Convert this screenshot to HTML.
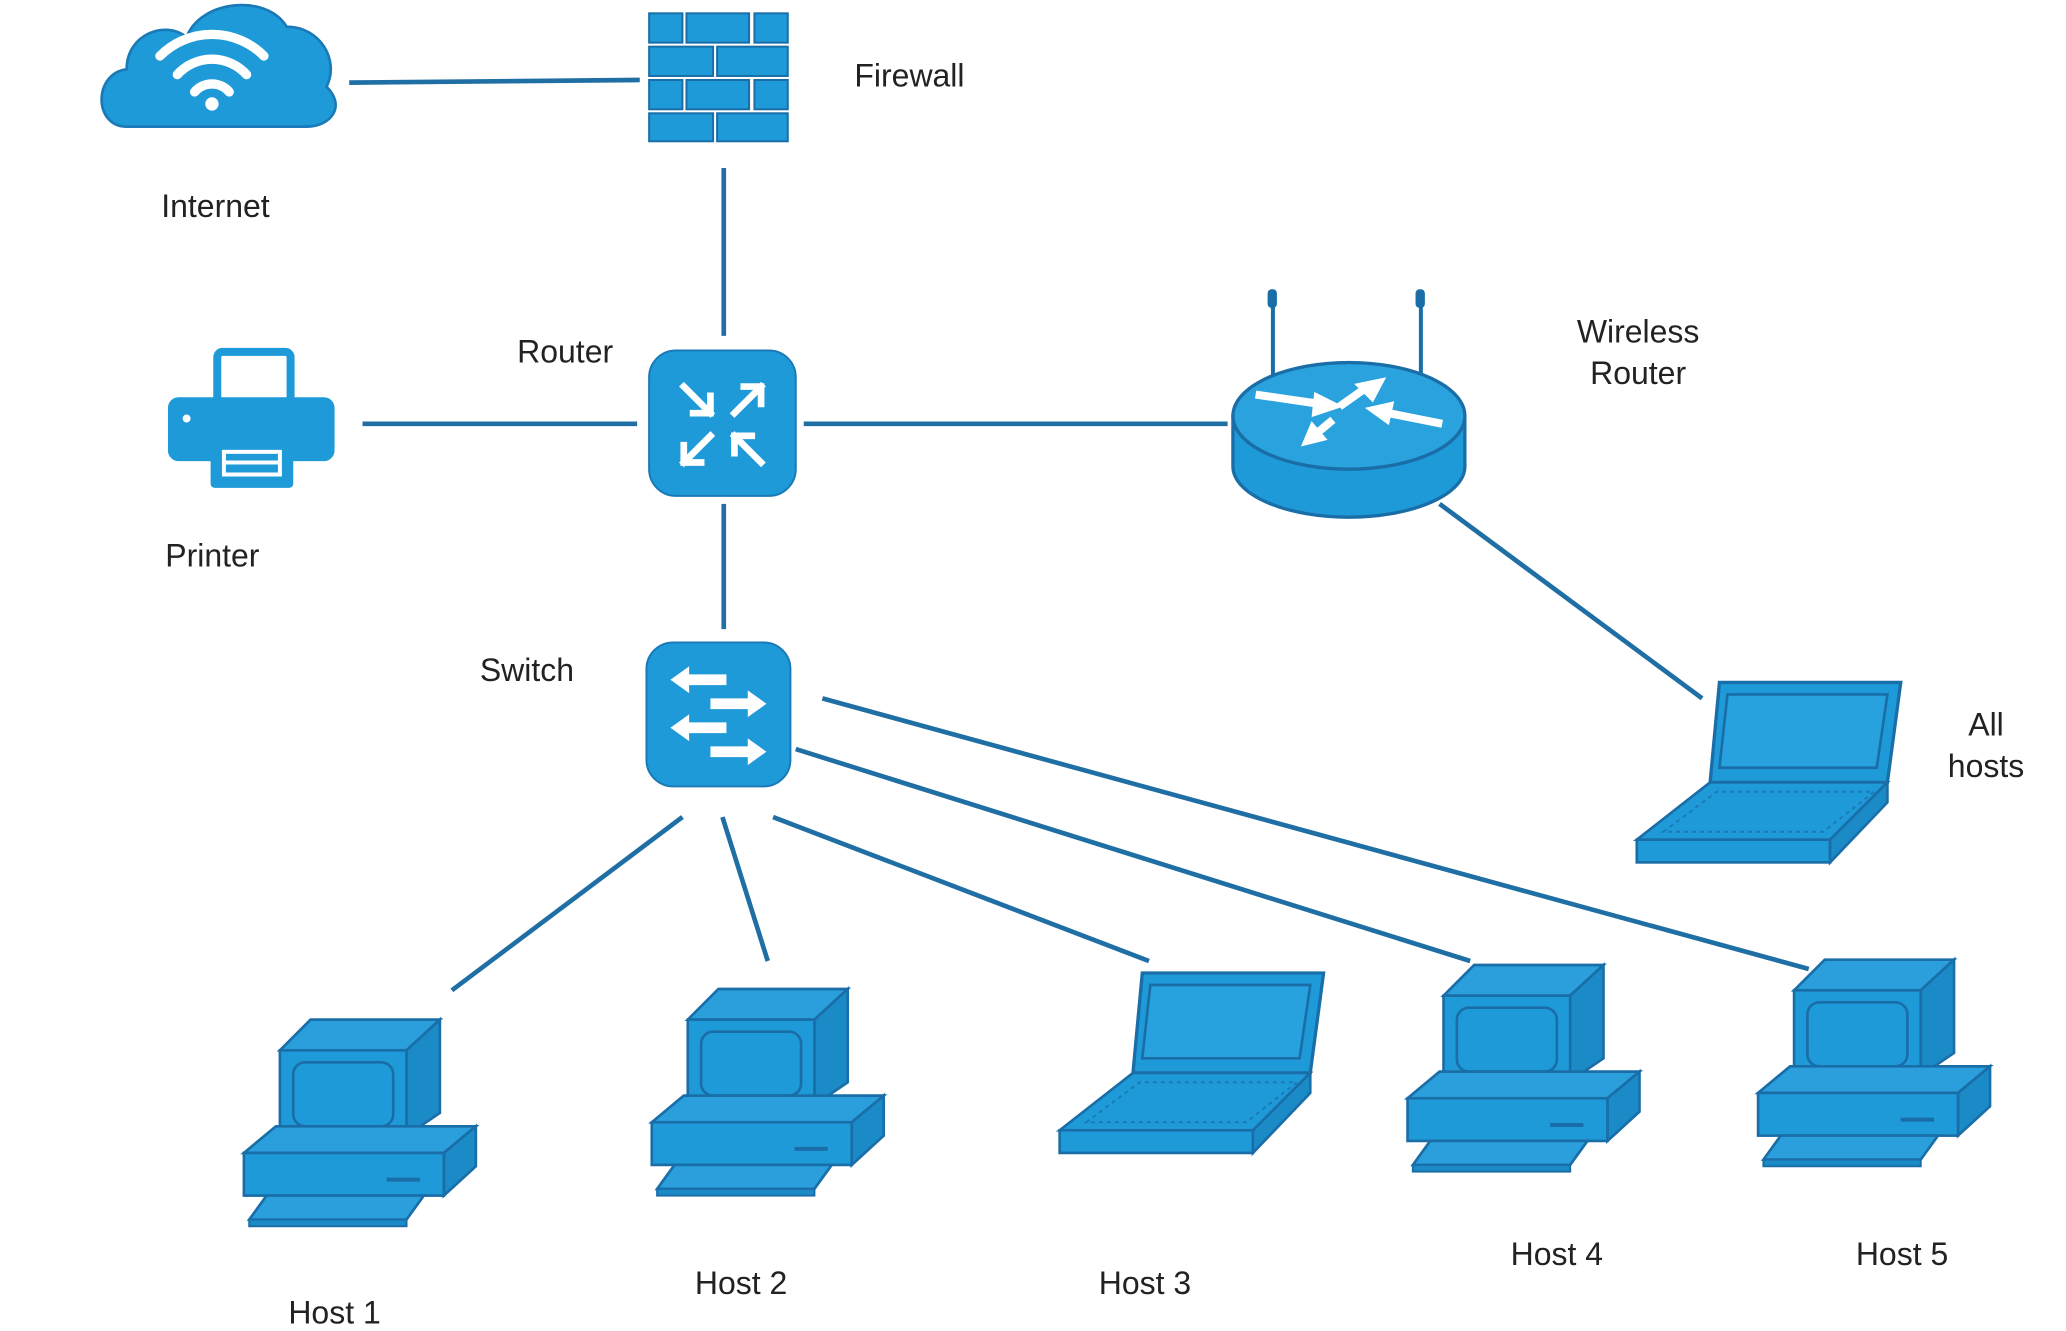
<!DOCTYPE html>
<html><head><meta charset="utf-8"><style>
html,body{margin:0;padding:0;background:#fff;}
svg{display:block;}
text{font-family:"Liberation Sans",Arial,sans-serif;font-size:24px;fill:#222;}
</style></head><body>
<svg width="2066" height="1331" viewBox="0 0 1550 998.6" preserveAspectRatio="none" xmlns="http://www.w3.org/2000/svg">
<defs>
<g id="pc">
  <polygon points="27,23 50,0 147,0 122,23" fill="#2a9fdc" stroke="#1a6ea8" stroke-width="2"/>
  <polygon points="122,23 147,0 147,70 122,87" fill="#1b8bc8" stroke="#1a6ea8" stroke-width="2"/>
  <rect x="27" y="23" width="95" height="64" fill="#1f9ad8" stroke="#1a6ea8" stroke-width="2"/>
  <rect x="37" y="32" width="75" height="48" rx="9" fill="#1f9ad8" stroke="#1a6ea8" stroke-width="2"/>
  <polygon points="0,100 24,80 174,80 150,100" fill="#2a9fdc" stroke="#1a6ea8" stroke-width="2"/>
  <polygon points="150,100 174,80 174,110 150,132" fill="#1b8bc8" stroke="#1a6ea8" stroke-width="2"/>
  <rect x="0" y="100" width="150" height="32" fill="#1f9ad8" stroke="#1a6ea8" stroke-width="2"/>
  <line x1="107" y1="120" x2="132" y2="120" stroke="#1a6ea8" stroke-width="3"/>
  <polygon points="4,150 17,132 135,132 122,150" fill="#2a9fdc" stroke="#1a6ea8" stroke-width="2"/>
  <rect x="4" y="150" width="118" height="5" fill="#1b8bc8" stroke="#1a6ea8" stroke-width="1.5"/>
</g>
<g id="lap">
  <polygon points="55,75 62,0 198,0 188,75" fill="#1f9ad8" stroke="#1a6ea8" stroke-width="2.5"/>
  <polygon points="68,9 188,9 180,64 62,64" fill="#27a2de" stroke="#1a6ea8" stroke-width="2"/>
  <polygon points="0,118 55,75 188,75 145,118" fill="#1f9ad8" stroke="#1a6ea8" stroke-width="2"/>
  <polygon points="20,112 60,82 178,82 140,112" fill="none" stroke="#1a7ab8" stroke-width="1.5" stroke-dasharray="3,3"/>
  <rect x="0" y="118" width="145" height="17" fill="#1f9ad8" stroke="#1a6ea8" stroke-width="2"/>
  <polygon points="145,118 188,75 188,90 145,135" fill="#1b8bc8" stroke="#1a6ea8" stroke-width="2"/>
</g>
</defs>

<g stroke="#1f6fa5" stroke-width="3.5" fill="none">
  <line x1="262" y1="62" x2="480" y2="60"/>
  <line x1="543" y1="126" x2="543" y2="252"/>
  <line x1="272" y1="318" x2="478" y2="318"/>
  <line x1="603" y1="318" x2="921" y2="318"/>
  <line x1="1080" y1="378" x2="1277" y2="524"/>
  <line x1="543" y1="378" x2="543" y2="472"/>
  <line x1="512" y1="613" x2="339" y2="743"/>
  <line x1="542" y1="613" x2="576" y2="721"/>
  <line x1="580" y1="613" x2="862" y2="721"/>
  <line x1="597" y1="562" x2="1103" y2="721"/>
  <line x1="617" y1="524" x2="1357" y2="727"/>
</g>

<path d="M95,95 C70,95 70,55 95,52 C95,25 125,15 140,28 C150,0 200,-5 215,20 C240,20 255,45 245,65 C260,80 248,95 230,95 Z" fill="#1f9ad8" stroke="#1a7ab8" stroke-width="2"/>
<g fill="none" stroke="#fff" stroke-width="7" stroke-linecap="round">
  <path d="M120,42 A55,55 0 0 1 198,42"/>
  <path d="M133,56 A35,35 0 0 1 185,56"/>
  <path d="M146,69 A17,17 0 0 1 172,69"/>
</g>
<circle cx="159" cy="78" r="5" fill="#fff"/>

<g fill="#1f9ad8" stroke="#1a6ea8" stroke-width="1.5">
  <rect x="487" y="10" width="25" height="22"/><rect x="515" y="10" width="47" height="22"/><rect x="566" y="10" width="25" height="22"/>
  <rect x="487" y="35" width="48" height="22"/><rect x="538" y="35" width="53" height="22"/>
  <rect x="487" y="60" width="25" height="22"/><rect x="515" y="60" width="47" height="22"/><rect x="566" y="60" width="25" height="22"/>
  <rect x="487" y="85" width="48" height="21"/><rect x="538" y="85" width="53" height="21"/>
</g>

<rect x="487" y="263" width="110" height="109" rx="20" fill="#1f9ad8" stroke="#1a7ab8" stroke-width="1.5"/>
<g stroke="#fff" stroke-width="5" fill="none" stroke-linecap="square">
  <line x1="513" y1="290" x2="533" y2="310"/><polyline points="533,297 533,310 520,310"/>
  <line x1="551" y1="310" x2="571" y2="290"/><polyline points="558,290 571,290 571,303"/>
  <line x1="533" y1="327" x2="513" y2="347"/><polyline points="513,334 513,347 526,347"/>
  <line x1="571" y1="347" x2="551" y2="327"/><polyline points="551,340 551,327 564,327"/>
</g>

<rect x="163" y="264" width="55" height="40" rx="4" fill="#fff" stroke="#1f9ad8" stroke-width="6"/>
<rect x="126" y="298" width="125" height="48" rx="8" fill="#1f9ad8"/>
<rect x="158" y="328" width="62" height="38" rx="3" fill="#1f9ad8"/>
<circle cx="140" cy="314" r="3" fill="#fff"/>
<rect x="168" y="339" width="42" height="17" fill="none" stroke="#fff" stroke-width="3"/>
<line x1="168" y1="347" x2="210" y2="347" stroke="#fff" stroke-width="3"/>

<g stroke="#1a6ea8" stroke-width="3">
  <line x1="955" y1="222" x2="955" y2="290"/><line x1="1066" y1="222" x2="1066" y2="290"/>
</g>
<rect x="951" y="217" width="7" height="14" rx="3" fill="#1a6ea8"/>
<rect x="1062" y="217" width="7" height="14" rx="3" fill="#1a6ea8"/>
<path d="M925,312 L925,350 A87,38 0 0 0 1099,350 L1099,312 Z" fill="#1f9ad8" stroke="#1a6ea8" stroke-width="2.5"/>
<ellipse cx="1012" cy="312" rx="87" ry="40" fill="#2aa2de" stroke="#1a6ea8" stroke-width="2.5"/>
<g stroke="#fff" stroke-width="6" stroke-linecap="butt">
  <line x1="942" y1="296" x2="990" y2="303"/>
  <line x1="1082" y1="318" x2="1042" y2="310"/>
  <line x1="1005" y1="305" x2="1022" y2="293"/>
  <line x1="1000" y1="315" x2="988" y2="325"/>
</g>
<g fill="#fff">
  <polygon points="986,294 1008,305 984,313"/>
  <polygon points="1046,301 1024,306 1042,319"/>
  <polygon points="1016,288 1040,283 1030,302"/>
  <polygon points="996,330 976,335 984,316"/>
</g>

<rect x="485" y="482" width="108" height="108" rx="20" fill="#1f9ad8" stroke="#1a7ab8" stroke-width="1.5"/>
<g fill="#fff">
  <polygon points="503,510 517,500 517,506 545,506 545,514 517,514 517,520"/>
  <polygon points="575,528 561,518 561,524 533,524 533,532 561,532 561,538"/>
  <polygon points="503,546 517,536 517,542 545,542 545,550 517,550 517,556"/>
  <polygon points="575,564 561,554 561,560 533,560 533,568 561,568 561,574"/>
</g>

<use href="#pc" transform="translate(183,765)"/>
<use href="#pc" transform="translate(489,742)"/>
<use href="#pc" transform="translate(1056,724)"/>
<use href="#pc" transform="translate(1319,720)"/>
<use href="#lap" transform="translate(795,730)"/>
<use href="#lap" transform="translate(1228,512)"/>

<text x="641" y="65">Firewall</text>
<text x="121" y="163">Internet</text>
<text x="388" y="272">Router</text>
<text x="124" y="425">Printer</text>
<text x="360" y="511">Switch</text>
<text x="1229" y="257" text-anchor="middle">Wireless</text>
<text x="1229" y="288" text-anchor="middle">Router</text>
<text x="1490" y="552" text-anchor="middle">All</text>
<text x="1490" y="583" text-anchor="middle">hosts</text>
<text x="251" y="993" text-anchor="middle">Host 1</text>
<text x="556" y="971" text-anchor="middle">Host 2</text>
<text x="859" y="971" text-anchor="middle">Host 3</text>
<text x="1168" y="949" text-anchor="middle">Host 4</text>
<text x="1427" y="949" text-anchor="middle">Host 5</text>
</svg>
</body></html>
